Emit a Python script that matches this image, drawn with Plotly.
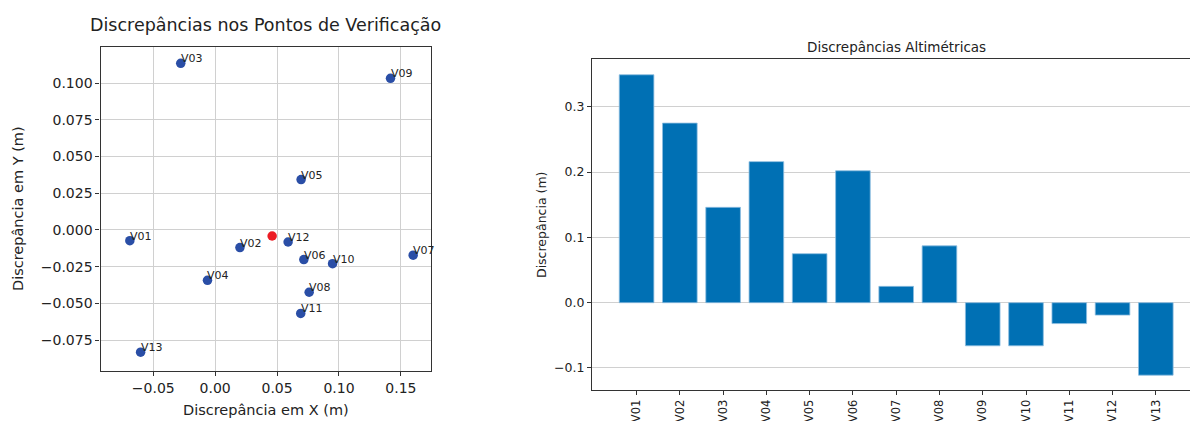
import plotly.graph_objects as go

# Check-point discrepancies (m)
pontos = ["V01", "V02", "V03", "V04", "V05", "V06", "V07",
          "V08", "V09", "V10", "V11", "V12", "V13"]
dx = [-0.0689, 0.0200, -0.0278, -0.0062, 0.0694, 0.0716, 0.1599,
      0.0759, 0.1416, 0.0948, 0.0691, 0.0589, -0.0602]
dy = [-0.0073, -0.0120, 0.1134, -0.0343, 0.0343, -0.0202, -0.0172,
      -0.0424, 0.1032, -0.0230, -0.0568, -0.0082, -0.0832]
dz = [0.349, 0.275, 0.146, 0.216, 0.075, 0.202, 0.025,
      0.087, -0.066, -0.066, -0.032, -0.019, -0.111]

# mean planimetric discrepancy
mx = sum(dx) / len(dx)
my = sum(dy) / len(dy)

FONT = "DejaVu Sans"
GRID = "#d0d0d0"
FRAME = "#333333"
TXT = "#222222"

fig = go.Figure()

fig.add_trace(go.Scatter(
    x=dx, y=dy, mode="markers",
    marker=dict(size=9.5, color="#2a4ea6"),
    xaxis="x", yaxis="y", showlegend=False, hoverinfo="skip"))
fig.add_trace(go.Scatter(
    x=[mx], y=[my], mode="markers",
    marker=dict(size=9.5, color="#ec1c24"),
    xaxis="x", yaxis="y", showlegend=False, hoverinfo="skip"))

fig.add_trace(go.Bar(
    x=pontos, y=dz, width=0.8,
    marker=dict(color="#0070b4", line=dict(color="#8cbde0", width=0.8)),
    xaxis="x2", yaxis="y2", showlegend=False, hoverinfo="skip"))

annotations = []
for name, x, y in zip(pontos, dx, dy):
    annotations.append(dict(
        x=x, y=y, xref="x", yref="y", text=name, showarrow=False,
        xanchor="left", yanchor="bottom", xshift=-2, yshift=-4,
        font=dict(family=FONT, size=11, color=TXT)))

# titles
annotations += [
    dict(x=265.5 / 1190, y=1 - 25 / 421, xref="paper", yref="paper",
         text="Discrepâncias nos Pontos de Verificação", showarrow=False,
         xanchor="center", yanchor="middle",
         font=dict(family=FONT, size=17.5, color=TXT)),
    dict(x=896 / 1190, y=1 - 47 / 421, xref="paper", yref="paper",
         text="Discrepâncias Altimétricas", showarrow=False,
         xanchor="center", yanchor="middle",
         font=dict(family=FONT, size=13.5, color=TXT)),
    dict(x=265.5 / 1190, y=1 - 410 / 421, xref="paper", yref="paper",
         text="Discrepância em X (m)", showarrow=False,
         xanchor="center", yanchor="middle",
         font=dict(family=FONT, size=14.5, color=TXT)),
    dict(x=18 / 1190, y=1 - 209 / 421, xref="paper", yref="paper",
         text="Discrepância em Y (m)", showarrow=False, textangle=-90,
         xanchor="center", yanchor="middle",
         font=dict(family=FONT, size=14.5, color=TXT)),
    dict(x=541 / 1190, y=1 - 225 / 421, xref="paper", yref="paper",
         text="Discrepância (m)", showarrow=False, textangle=-90,
         xanchor="center", yanchor="middle",
         font=dict(family=FONT, size=12.5, color=TXT)),
]

axis_common = dict(
    showgrid=True, gridcolor=GRID, gridwidth=1, zeroline=False,
    showline=True, linecolor=FRAME, linewidth=1.2,
    ticks="outside", ticklen=4, tickcolor=FRAME,
)

fig.update_layout(
    width=1190, height=421,
    margin=dict(l=0, r=0, t=0, b=0),
    paper_bgcolor="white", plot_bgcolor="white",
    font=dict(family=FONT, color=TXT),
    annotations=annotations,
    xaxis=dict(domain=[100.5 / 1190, 431 / 1190], range=[-0.0926, 0.1743],
               dtick=0.05, tick0=0, tickformat=".2f", mirror=True,
               tickfont=dict(size=14), anchor="y", **axis_common),
    yaxis=dict(domain=[1 - 371 / 421, 1 - 47 / 421], range=[-0.096, 0.1245],
               dtick=0.025, tick0=0, tickformat=".3f", mirror=True,
               tickfont=dict(size=14), anchor="x", **axis_common),
    xaxis2=dict(domain=[592 / 1190, 1.0], range=[-1.03, 12.79],
                showgrid=False, zeroline=False, showline=True, mirror=True,
                linecolor=FRAME, linewidth=1.2, ticks="outside", ticklen=4,
                tickcolor=FRAME, tickangle=-90, tickfont=dict(size=11.5),
                anchor="y2"),
    yaxis2=dict(domain=[1 - 390 / 421, 1 - 59.3 / 421], range=[-0.1337, 0.3727],
                dtick=0.1, tick0=0, tickformat=".1f", showgrid=True,
                gridcolor=GRID, gridwidth=1, zeroline=False, showline=True,
                mirror=False, linecolor=FRAME, linewidth=1.2, ticks="outside",
                ticklen=4, tickcolor=FRAME, tickfont=dict(size=12.5),
                anchor="x2"),
)

fig.write_html("out.html")
